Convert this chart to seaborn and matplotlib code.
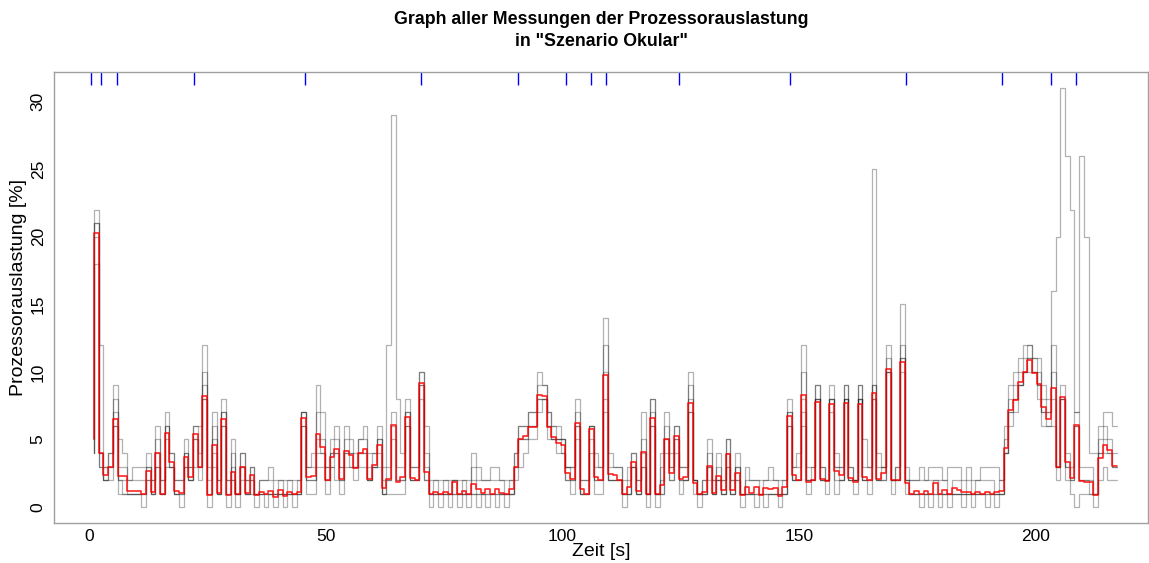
import numpy as np
import pandas as pd
import matplotlib
matplotlib.use("Agg")
import matplotlib.pyplot as plt
import seaborn as sns
from matplotlib.transforms import blended_transform_factory

# ---- data (one value per measurement interval, ~1 s) ----
mean_load = [5.0, 20.3, 4.0, 2.4, 3.0, 6.55, 2.3, 2.3, 1.2, 1.2,
             1.2, 1.0, 2.7, 1.1, 4.0, 1.0, 5.5, 3.3, 1.2, 1.06,
             3.7, 2.2, 5.4, 3.0, 8.2, 0.9, 4.6, 1.06, 6.5, 0.9,
             2.6, 1.0, 3.0, 1.06, 2.4, 0.9, 1.1, 1.0, 1.2, 0.76,
             1.25, 0.84, 1.13, 0.96, 1.08, 6.6, 2.24, 2.3, 5.4, 4.46,
             2.0, 3.67, 4.3, 2.1, 4.16, 3.84, 2.9, 3.97, 4.26, 2.1,
             3.1, 4.58, 1.43, 2.1, 6.1, 1.87, 2.24, 6.7, 2.17, 2.0,
             9.2, 2.6, 1.0, 1.13, 1.0, 1.13, 0.96, 1.87, 1.0, 1.18,
             1.0, 1.74, 1.3, 1.06, 1.3, 0.96, 1.3, 1.06, 1.0, 1.3,
             3.0, 5.0, 5.25, 5.96, 5.96, 8.3, 8.2, 5.96, 5.2, 4.75,
             4.6, 2.5, 2.1, 6.2, 1.33, 1.0, 5.8, 2.24, 2.0, 9.8,
             2.43, 2.36, 2.0, 1.0, 1.5, 3.35, 1.2, 4.1, 0.96, 6.6,
             1.0, 1.6, 5.07, 2.54, 5.25, 2.07, 2.24, 7.7, 1.8, 0.96,
             1.08, 3.03, 1.06, 2.3, 1.26, 3.9, 1.28, 2.5, 0.89, 1.45,
             1.06, 1.45, 0.89, 1.38, 1.3, 1.38, 0.81, 1.45, 6.75, 2.34,
             2.0, 8.3, 1.87, 2.0, 7.8, 2.1, 1.9, 7.6, 2.7, 2.4,
             7.7, 2.17, 1.87, 7.66, 2.24, 2.0, 8.47, 2.1, 2.54, 10.2,
             2.0, 2.0, 10.7, 1.8, 1.0, 1.18, 1.0, 1.18, 1.0, 1.75,
             1.0, 1.26, 1.0, 1.38, 1.26, 1.08, 1.08, 0.96, 1.08, 1.0,
             1.08, 1.0, 1.08, 1.2, 4.34, 7.17, 7.9, 9.26, 10.0, 10.86,
             9.9, 9.14, 7.4, 6.55, 8.8, 2.98, 8.15, 3.35, 2.12, 6.1,
             1.95, 1.87, 1.87, 0.89, 3.6, 4.58, 4.2, 3.03]

run_high = [5, 22, 12, 3, 4, 9, 5, 4, 2, 3,
            3, 3, 4, 2, 6, 2, 7, 4, 2, 2,
            5, 3, 6, 6, 12, 3, 7, 2, 8, 2,
            5, 1, 4, 2, 3, 1, 2, 2, 3, 2,
            2, 2, 2, 2, 2, 7, 3, 4, 9, 7,
            3, 5, 6, 3, 6, 5, 4, 5, 6, 4,
            4, 6, 3, 12, 29, 8, 4, 8, 3, 3,
            10, 6, 2, 2, 2, 2, 2, 2, 2, 2,
            2, 4, 3, 2, 2, 3, 3, 2, 2, 2,
            4, 6, 6, 7, 7, 10, 9, 7, 6, 6,
            5, 3, 3, 8, 2, 2, 6, 4, 3, 14,
            4, 3, 3, 2, 3, 4, 2, 7, 1, 8,
            1, 4, 7, 4, 6, 3, 3, 10, 2, 1,
            2, 5, 2, 4, 2, 5, 2, 4, 1, 3,
            2, 2, 2, 2, 3, 2, 2, 2, 8, 3,
            4, 12, 3, 3, 9, 3, 2, 9, 4, 3,
            9, 3, 2, 9, 5, 3, 25, 4, 3, 12,
            2, 3, 15, 3, 2, 2, 3, 2, 3, 3,
            3, 2, 3, 3, 3, 2, 3, 2, 2, 3,
            3, 3, 3, 2, 6, 9, 10, 11, 12, 12,
            11, 11, 9, 8, 16, 20, 31, 26, 22, 7,
            26, 20, 4, 4, 6, 7, 7, 6]

run_upper = [5, 21, 4, 3, 4, 8, 3, 3, 2, 2,
             2, 2, 3, 2, 5, 2, 6, 4, 2, 2,
             4, 3, 6, 4, 10, 2, 6, 2, 7, 2,
             4, 1, 4, 2, 3, 1, 2, 2, 2, 1,
             2, 1, 2, 1, 2, 7, 3, 3, 7, 5,
             3, 4, 5, 3, 5, 4, 3, 5, 5, 3,
             4, 5, 2, 3, 7, 3, 3, 7, 3, 3,
             10, 4, 1, 2, 1, 2, 1, 2, 1, 2,
             1, 3, 2, 2, 2, 2, 2, 2, 1, 2,
             4, 6, 6, 7, 7, 9, 9, 7, 6, 5,
             5, 3, 3, 7, 2, 2, 6, 3, 3, 12,
             3, 3, 3, 1, 2, 4, 2, 5, 1, 8,
             1, 3, 6, 3, 6, 3, 3, 9, 2, 1,
             2, 4, 2, 3, 2, 5, 2, 3, 1, 2,
             2, 2, 1, 2, 2, 2, 1, 2, 7, 3,
             3, 10, 2, 3, 9, 3, 2, 8, 3, 3,
             9, 3, 2, 9, 3, 3, 9, 3, 3, 11,
             2, 3, 12, 2, 2, 2, 2, 2, 2, 2,
             2, 2, 1, 2, 2, 1, 2, 1, 2, 2,
             2, 2, 1, 2, 5, 8, 9, 10, 11, 12,
             11, 10, 8, 7, 12, 3, 9, 4, 3, 7,
             3, 3, 3, 1, 5, 6, 5, 4]

run_mid = [4, 21, 4, 2, 3, 7, 2, 2, 1, 1,
           1, 1, 3, 1, 4, 1, 6, 3, 1, 1,
           4, 2, 5, 3, 9, 1, 5, 1, 7, 1,
           3, 1, 3, 1, 2, 1, 1, 1, 1, 1,
           1, 1, 1, 1, 1, 7, 2, 2, 5, 4,
           2, 4, 4, 2, 4, 4, 3, 4, 4, 2,
           3, 5, 1, 2, 6, 2, 2, 7, 2, 2,
           9, 3, 1, 1, 1, 1, 1, 2, 1, 1,
           1, 2, 1, 1, 1, 1, 1, 1, 1, 1,
           3, 5, 5, 6, 6, 8, 8, 6, 5, 5,
           5, 3, 2, 6, 1, 1, 6, 2, 2, 10,
           2, 2, 2, 1, 1, 3, 1, 4, 1, 7,
           1, 2, 5, 3, 5, 2, 2, 8, 2, 1,
           1, 3, 1, 2, 1, 4, 1, 3, 1, 1,
           1, 1, 1, 1, 1, 1, 1, 1, 7, 2,
           2, 8, 2, 2, 8, 2, 2, 8, 3, 2,
           8, 2, 2, 8, 2, 2, 9, 2, 3, 10,
           2, 2, 11, 2, 1, 1, 1, 1, 1, 2,
           1, 1, 1, 1, 1, 1, 1, 1, 1, 1,
           1, 1, 1, 1, 4, 7, 8, 9, 10, 11,
           10, 9, 7, 7, 10, 3, 8, 3, 2, 6,
           2, 2, 2, 1, 4, 5, 4, 3]

run_lower = [4, 20, 3, 2, 3, 6, 2, 1, 1, 1,
             1, 1, 2, 1, 3, 1, 5, 3, 1, 1,
             3, 2, 5, 3, 8, 1, 4, 1, 6, 1,
             2, 1, 3, 1, 2, 1, 1, 1, 1, 1,
             1, 1, 1, 1, 1, 6, 2, 2, 4, 4,
             2, 3, 4, 2, 4, 3, 3, 4, 4, 2,
             3, 4, 1, 2, 5, 2, 2, 6, 2, 2,
             9, 2, 1, 1, 1, 1, 1, 1, 1, 1,
             1, 1, 1, 1, 1, 1, 1, 1, 1, 1,
             3, 5, 5, 6, 6, 8, 8, 6, 5, 5,
             4, 2, 2, 6, 1, 1, 5, 2, 2, 8,
             2, 2, 2, 1, 1, 3, 1, 3, 1, 6,
             1, 1, 5, 2, 5, 2, 2, 7, 2, 1,
             1, 3, 1, 2, 1, 3, 1, 2, 1, 1,
             1, 1, 1, 1, 1, 1, 1, 1, 6, 2,
             2, 7, 2, 2, 8, 2, 2, 8, 2, 2,
             8, 2, 2, 8, 2, 2, 8, 2, 2, 10,
             2, 2, 11, 2, 1, 1, 1, 1, 1, 1,
             1, 1, 1, 1, 1, 1, 1, 1, 1, 1,
             1, 1, 1, 1, 4, 7, 8, 9, 10, 11,
             10, 9, 7, 6, 8, 3, 8, 3, 2, 6,
             2, 2, 1, 1, 4, 4, 4, 3]

run_low = [4, 18, 3, 2, 2, 6, 1, 1, 1, 1,
           1, 0, 2, 1, 3, 1, 3, 3, 1, 0,
           3, 2, 3, 2, 8, 0, 3, 1, 6, 0,
           2, 0, 2, 1, 1, 0, 1, 0, 1, 0,
           1, 0, 1, 0, 1, 6, 1, 1, 3, 3,
           1, 3, 2, 1, 3, 3, 2, 3, 3, 2,
           3, 3, 1, 1, 1, 1, 1, 6, 2, 2,
           8, 2, 0, 1, 0, 1, 0, 1, 0, 1,
           0, 1, 0, 1, 0, 1, 0, 1, 0, 1,
           2, 3, 4, 5, 5, 7, 8, 5, 5, 4,
           4, 2, 1, 5, 1, 1, 4, 1, 1, 7,
           2, 2, 2, 0, 1, 3, 1, 3, 0, 6,
           0, 1, 4, 2, 4, 1, 2, 7, 1, 0,
           1, 2, 1, 2, 1, 3, 1, 2, 0, 1,
           1, 0, 1, 0, 1, 1, 0, 1, 6, 2,
           2, 6, 1, 2, 8, 2, 1, 7, 1, 2,
           8, 2, 1, 8, 2, 1, 8, 2, 2, 10,
           1, 2, 10, 1, 1, 1, 0, 1, 0, 1,
           0, 1, 0, 1, 1, 0, 1, 0, 1, 1,
           0, 1, 0, 1, 4, 6, 7, 9, 10, 10,
           10, 8, 6, 6, 6, 2, 8, 2, 1, 0,
           1, 1, 1, 0, 2, 3, 2, 2]

event_times = [0.3, 2.5, 5.8, 22.1, 45.6, 70.1, 90.5, 100.7, 106.0, 109.2,
               124.6, 148.0, 172.5, 192.9, 203.3, 208.5]

sample_period = 0.996
x_ticks = [0, 50, 100, 150, 200]
y_ticks = [0, 5, 10, 15, 20, 25, 30]

runs = [run_high, run_upper, run_mid, run_lower, run_low]
n = min([len(mean_load)] + [len(r) for r in runs])
t = (np.arange(n) + 1) * sample_period

sns.set_style("white")
plt.rcParams["font.family"] = ["Liberation Sans", "DejaVu Sans"]
plt.rcParams["text.color"] = "black"
plt.rcParams["axes.labelcolor"] = "black"

W, H = 1149, 563
fig = plt.figure(figsize=(W / 100, H / 100), dpi=100)
ax = fig.add_axes([54 / W, 1 - 523 / H, (1148 - 54) / W, (523 - 71.7) / H])

for vals in runs:
    df = pd.DataFrame({"t": t, "v": np.asarray(vals[:n], dtype=float)})
    sns.lineplot(data=df, x="t", y="v", drawstyle="steps-pre", color="black",
                 alpha=0.3, lw=0.9, ax=ax, estimator=None, sort=False)

dfm = pd.DataFrame({"t": t, "v": mean_load[:n]})
sns.lineplot(data=dfm, x="t", y="v", drawstyle="steps-pre", color="#ff0000",
             alpha=0.85, lw=1.2, ax=ax, estimator=None, sort=False)

trans = blended_transform_factory(ax.transData, ax.transAxes)
ax.vlines(event_times, 0.97, 1.0, transform=trans, color="#0000ff", lw=1.0)

ax.set_xlim(-7.46, 223.7)
ax.set_ylim(-1.18, 32.22)
ax.set_xticks(x_ticks)
ax.set_yticks(y_ticks)
ax.set_xlabel("")
ax.set_ylabel("")
for s in ax.spines.values():
    s.set_visible(True)
    s.set_color("#a0a0a0")
    s.set_linewidth(1.0)
ax.tick_params(axis="both", direction="out", length=4, width=0.8, color="#a0a0a0",
               labelsize=12.5, labelcolor="black", pad=0.5)
ax.tick_params(axis="y", labelrotation=90, pad=2)
for lab in ax.get_yticklabels():
    lab.set_va("center")

fig.text(601 / W, 1 - 30.5 / H, "Graph aller Messungen der Prozessorauslastung\nin \"Szenario Okular\"",
         ha="center", va="center", fontsize=12.8, fontweight="bold", linespacing=1.45,
         color="black")
fig.text(601 / W, 1 - 551 / H, "Zeit [s]", ha="center", va="center", fontsize=14, color="black")
fig.text(19 / W, 1 - 287 / H, "Prozessorauslastung [%]", ha="center", va="center",
         rotation=90, fontsize=14, color="black")

fig.savefig("out.png", dpi=100)
